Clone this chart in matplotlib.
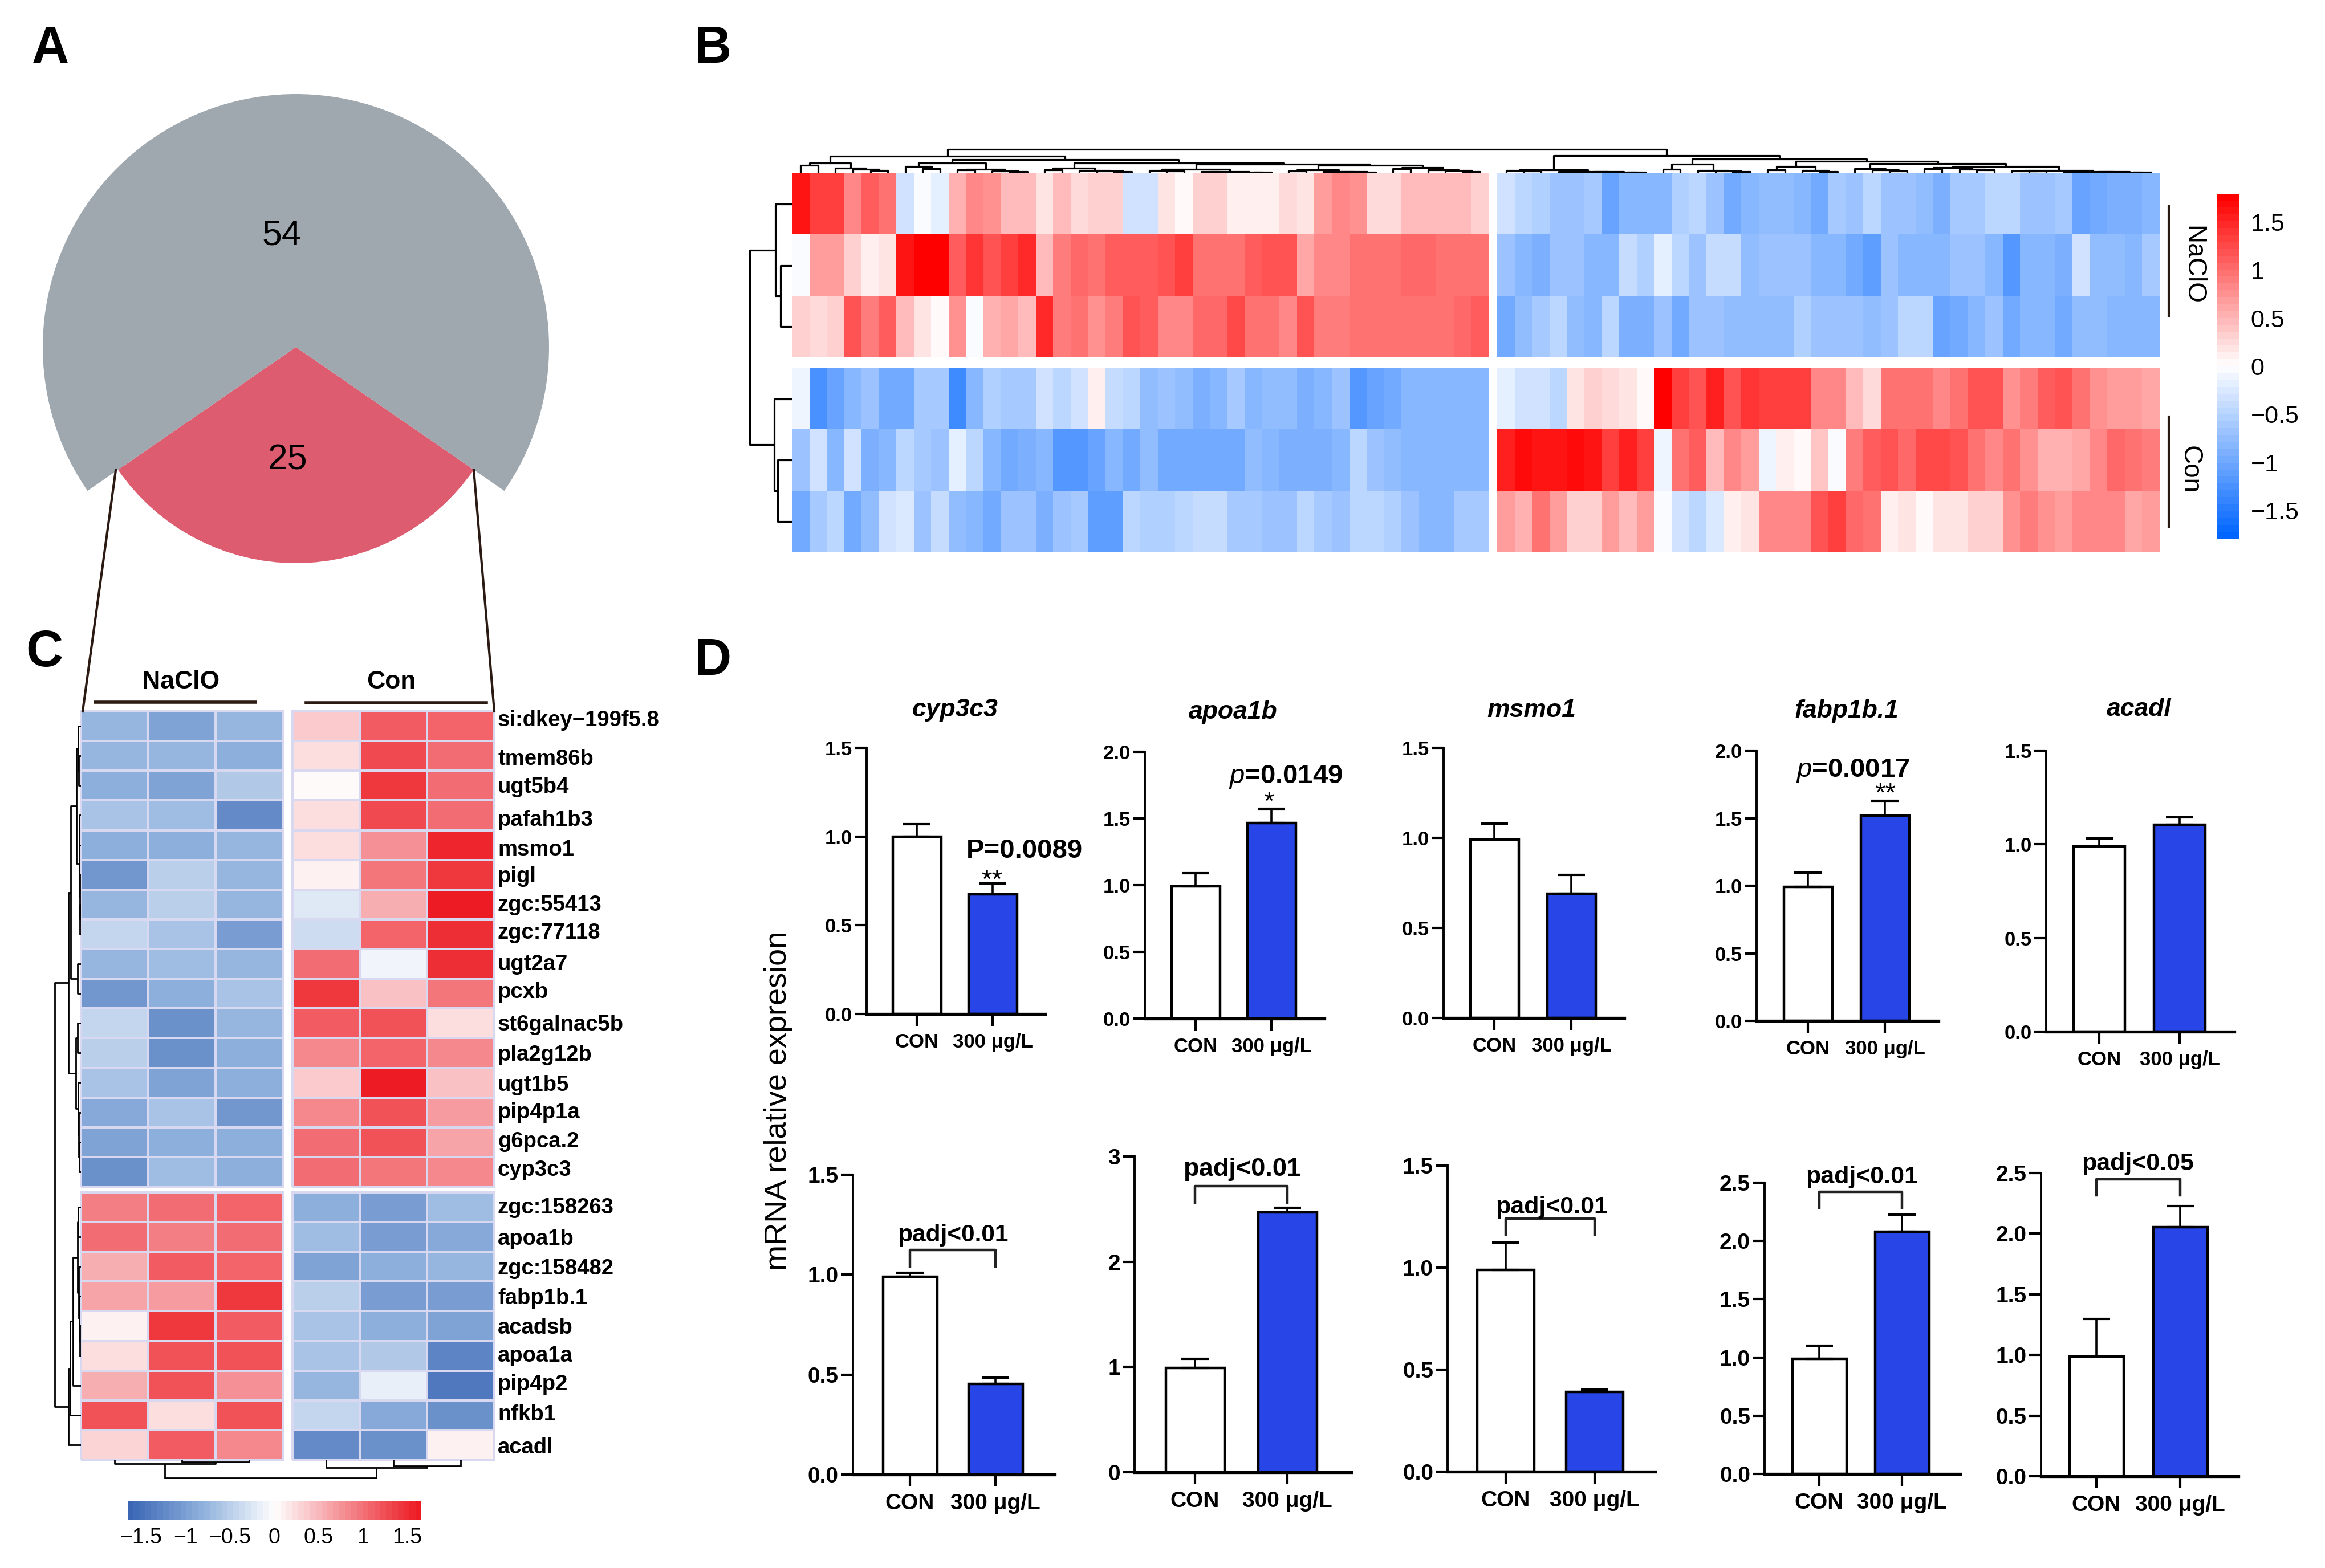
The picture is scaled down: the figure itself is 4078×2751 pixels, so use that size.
import matplotlib
matplotlib.use('Agg')
import matplotlib.pyplot as plt
import numpy as np
from matplotlib.colors import LinearSegmentedColormap

plt.rcParams['font.family'] = ['Liberation Sans', 'DejaVu Sans']
plt.rcParams['mathtext.fontset'] = 'custom'
plt.rcParams['mathtext.it'] = 'Liberation Sans:italic'
plt.rcParams['mathtext.rm'] = 'Liberation Sans'

W, H = 4078, 2751
DPI = 100

# panel A
pie_values = [25, 54]

# panel B, rows NaClO x3 then Con x3, left column cluster
b_left = [
    [1.6, 1.3, 1.3, .8, 1.1, 1.0, -.3, -.05, -.15, .55, .8, .75, .5, .45, .2, .5, .25, .35, .35, -.3,
     -.3, .2, .05, .3, .3, .1, .1, .1, .25, .15, .65, .85, .75, .25, .25, .45, .45, .45, .45, .35],
    [-.05, .7, .7, .3, .1, .2, 1.6, 1.8, 1.8, 1.1, 1.4, 1.2, 1.35, 1.45, .5, .9, 1.05, 1.0, 1.1, 1.1,
     1.1, 1.2, 1.3, 1.0, 1.0, .95, 1.1, 1.15, 1.2, .6, .85, .85, 1.0, 1.0, 1.0, 1.05, 1.05, 1.0, .95, .95],
    [.3, .25, .3, 1.2, .9, 1.1, .45, .2, .05, .75, -.05, .55, .6, .5, 1.45, .9, 1.0, .75, .9, 1.15,
     1.1, .85, .85, 1.05, 1.05, 1.25, 1.0, .95, .85, 1.2, .9, .9, 1.0, 1.0, 1.0, .95, .95, .95, 1.05, 1.1],
    [-.1, -1.25, -1.05, -.85, -.7, -.95, -.95, -.6, -.6, -1.3, -.8, -.55, -.6, -.6, -.3, -.45, -.35, .1, -.4, -.45,
     -.75, -.65, -.75, -.9, -.8, -.6, -.85, -.75, -.75, -.9, -.85, -.65, -1.15, -1.05, -1.0, -.8, -.8, -.8, -.8, -.8],
    [-.7, -.3, -.8, -.3, -.9, -.85, -.5, -.6, -.7, -.15, -.45, -.85, -.95, -.9, -.85, -1.2, -1.2, -1.05, -.85, -.95,
     -.75, -1.0, -.95, -.95, -.95, -1.0, -.75, -.85, -.9, -.9, -.9, -.85, -.5, -.7, -.75, -.85, -.85, -.85, -.85, -.85],
    [-1.0, -.6, -.45, -1.0, -.75, -.3, -.25, -.65, -.4, -.75, -.85, -1.0, -.7, -.7, -.9, -.7, -.6, -1.1, -1.1, -.45,
     -.55, -.55, -.45, -.4, -.4, -.6, -.6, -.7, -.65, -.5, -.6, -.7, -.5, -.5, -.55, -.7, -.85, -.85, -.6, -.6],
]
# panel B, right column cluster
b_right = [
    [-.3, -.5, -.55, -.65, -.7, -.6, -1.05, -.85, -.85, -.85, -.55, -.5, -.65, -1.0, -.8, -.75, -.75, -.8, -.95,
     -.6, -.7, -.45, -.7, -.7, -.75, -.9, -.6, -.6, -.5, -.5, -.65, -.7, -.6, -1.05, -.95, -.9, -.9, -.85],
    [-.65, -.8, -.9, -.7, -.7, -.8, -.8, -.4, -.55, -.2, -.5, -.7, -.4, -.4, -.75, -.7, -.7, -.65, -.85,
     -.85, -1.0, -1.1, -.7, -.8, -.8, -.85, -.7, -.7, -.85, -1.15, -.8, -.8, -.9, -.35, -.75, -.75, -.8, -.6],
    [-.95, -.75, -.6, -.45, -.75, -.8, -.45, -.9, -.9, -.7, -.95, -.65, -.7, -.75, -.75, -.75, -.75, -.55, -.7,
     -.7, -.7, -.75, -.7, -.5, -.5, -1.05, -.95, -.85, -.7, -1.0, -.8, -.8, -1.0, -.75, -.75, -.85, -.85, -.85],
    [-.15, -.35, -.3, -.45, .2, .35, .25, .2, .05, 1.8, 1.3, 1.2, 1.55, 1.2, 1.4, 1.35, 1.35, 1.3, .85,
     .8, .45, .25, .95, 1.0, 1.0, .8, .95, 1.2, 1.15, .75, .9, 1.1, 1.2, 1.0, .75, .65, .7, .6],
    [1.55, 1.7, 1.6, 1.6, 1.65, 1.6, 1.35, 1.55, 1.35, -.1, .95, 1.1, .5, .85, .65, -.1, .1, 0, .4,
     -.03, .9, 1.1, 1.2, 1.05, 1.25, 1.25, 1.15, .95, .85, .95, .75, .55, .55, .6, .8, 1.05, 1.0, .9],
    [.65, .55, 1.0, .7, .3, .3, .65, .5, .7, -.05, -.35, -.45, -.25, .08, .2, .85, .8, .8, 1.15,
     1.35, 1.05, 1.0, .1, .2, .03, .2, .15, .3, .3, .75, .9, .75, .7, .8, .8, .8, .6, .7],
]
b_cticks = [-1.5, -1, -.5, 0, .5, 1, 1.5]
b_clabels = ['\u22121.5', '\u22121', '\u22120.5', '0', '0.5', '1', '1.5']

# panel C
c_genes = ['si:dkey\u2212199f5.8', 'tmem86b', 'ugt5b4', 'pafah1b3', 'msmo1', 'pigl', 'zgc:55413', 'zgc:77118',
           'ugt2a7', 'pcxb', 'st6galnac5b', 'pla2g12b', 'ugt1b5', 'pip4p1a', 'g6pca.2', 'cyp3c3',
           'zgc:158263', 'apoa1b', 'zgc:158482', 'fabp1b.1', 'acadsb', 'apoa1a', 'pip4p2', 'nfkb1', 'acadl']
c_nacio = [[-.75, -.95, -.75], [-.75, -.75, -.85], [-.8, -.95, -.55], [-.6, -.7, -1.2], [-.8, -.8, -.75],
           [-1.1, -.5, -.75], [-.75, -.5, -.75], [-.45, -.6, -1.0], [-.75, -.7, -.75], [-1.1, -.85, -.6],
           [-.45, -1.15, -.75], [-.5, -1.15, -.85], [-.6, -.95, -.8], [-.9, -.6, -1.1], [-.95, -.85, -.85],
           [-1.15, -.7, -.85], [.9, 1.0, 1.1], [1.0, .9, 1.0], [.55, 1.15, 1.1], [.65, .7, 1.45],
           [.08, 1.4, 1.15], [.2, 1.2, 1.25], [.55, 1.25, .75], [1.2, .22, 1.25], [.28, 1.15, .85]]
c_con = [[.35, 1.15, 1.1], [.2, 1.3, 1.05], [.03, 1.4, 1.05], [.25, 1.3, 1.05], [.25, .75, 1.55],
         [.08, .95, 1.4], [-.25, .55, 1.65], [-.35, 1.1, 1.5], [1.0, -.1, 1.5], [1.4, .4, .95],
         [1.15, 1.2, .25], [.8, 1.1, .85], [.35, 1.65, .4], [.85, 1.2, .7], [1.0, 1.2, .6],
         [1.0, .95, .85], [-.85, -1.0, -.7], [-.7, -1.05, -.9], [-.95, -.8, -.75], [-.5, -1.0, -1.0],
         [-.65, -.8, -.95], [-.6, -.55, -1.3], [-.75, -.15, -1.45], [-.4, -.9, -1.15], [-1.25, -1.15, .1]]
c_cticks = [-1.5, -1, -.5, 0, .5, 1, 1.5]

# panel D
d_titles = ['cyp3c3', 'apoa1b', 'msmo1', 'fabp1b.1', 'acadl']
d_ymax = [1.5, 2.0, 1.5, 2.0, 1.5, 1.5, 3, 1.5, 2.5, 2.5]
d_step = [.5, .5, .5, .5, .5, .5, 1, .5, .5, .5]
d_con = [1.0, .99, .99, .99, .99, .99, .99, .99, .99, .985]
d_con_err = [.07, .10, .09, .105, .04, .02, .087, .134, .11, .31]
d_trt = [.674, 1.466, .69, 1.521, 1.103, .452, 2.47, .39, 2.08, 2.055]
d_trt_err = [.061, .108, .105, .107, .042, .034, .044, .013, .147, .174]
d_groups = ['CON', '300 \u03bcg/L']
d_bracket_top = [None, None, None, None, None, 1.124, 2.72, 1.239, 2.42, 2.447]
d_bracket_low = [None, None, None, None, None, 1.04, 2.56, 1.161, 2.287, 2.318]

# layout in reference pixels: spine x, top y, zero y, right x, bar centres, bar width
d_layout = [
    (1520, 1312, 1779, 1833, 1608, 1741, 85),
    (2008, 1319, 1787, 2323, 2097, 2230, 85),
    (2532, 1312, 1786, 2849, 2621, 2756, 85),
    (3081, 1317, 1791, 3400, 3171, 3306, 85),
    (3589, 1317, 1810, 3919, 3682, 3823, 90),
    (1496, 2061, 2587, 1850, 1596, 1746, 95),
    (1990, 2029, 2583, 2370, 2096, 2258, 103),
    (2539, 2045, 2582, 2903, 2641, 2797, 100),
    (3095, 2075, 2586, 3438, 3191, 3336, 95),
    (3580, 2058, 2590, 3926, 3677, 3824, 95),
]
d_title_xy = [(1675, 1241), (2163, 1245), (2686, 1241), (3239, 1243), (3752, 1239)]

c_label_y = [1261, 1329, 1378, 1436, 1488, 1535, 1585, 1634, 1689, 1738, 1795, 1848, 1901, 1949,
             2000, 2050, 2116, 2171, 2223, 2275, 2327, 2376, 2426, 2479, 2537]

LINE = '#2b1a12'
BLUE = '#2846e8'

fig = plt.figure(figsize=(W / DPI, H / DPI), dpi=DPI, facecolor='white')


def px_axes(x0, y0, x1, y1, **kw):
    # axes from reference pixels, y going down
    return fig.add_axes([x0 / W, 1 - y1 / H, (x1 - x0) / W, (y1 - y0) / H], **kw)


def leaves(heights):
    # cluster of len(heights)+1 leaves, top height first
    if not heights:
        return 0
    cut = 1 + (len(heights) - 1) // 3
    return (heights[0], leaves(heights[1:cut]), leaves(heights[cut:]))


def draw_tree(ax, node, pos, counter, swap=False, lw=2.3):
    if node == 0:
        p = pos(counter[0])
        counter[0] += 1
        return p, 0
    h, a, b = node
    pa, ha = draw_tree(ax, a, pos, counter, swap, lw)
    pb, hb = draw_tree(ax, b, pos, counter, swap, lw)
    xs = [pa, pa, pb, pb]
    ys = [ha, h, h, hb]
    if swap:
        ax.plot(ys, xs, color='black', lw=lw, solid_capstyle='butt')
    else:
        ax.plot(xs, ys, color='black', lw=lw, solid_capstyle='butt')
    return (pa + pb) / 2, h


# panel A
ax = px_axes(519 - 444, 609 - 444, 519 + 444, 609 + 444)
half = 55.4
wedges, _ = ax.pie(pie_values, colors=['#de5c6f', '#9fa8af'], startangle=270 - half, radius=1.0,
                   wedgeprops={'linewidth': 0})
wedges[0].set_theta2(270 + half)
wedges[1].set_theta1(270 + half)
wedges[0].set_radius(379 / 444)
ax.set_xlim(-1, 1)
ax.set_ylim(-1, 1)

# panel B heatmap
cmap_b = LinearSegmentedColormap.from_list('b', ['#0066ff', '#ffffff', '#ff0000'], N=50)
b_left = np.array(b_left)
b_right = np.array(b_right)
x_blocks = [(1389, 2611), (2626, 3788)]
y_blocks = [(304, 627.5, 0, 3), (646, 969, 3, 6)]
for (x0, x1), arr in zip(x_blocks, [b_left, b_right]):
    for y0, y1, r0, r1 in y_blocks:
        ax = px_axes(x0, y0, x1, y1)
        ax.imshow(arr[r0:r1], cmap=cmap_b, vmin=-1.79, vmax=1.79, aspect='auto', interpolation='nearest')
        ax.axis('off')

# panel B dendrograms, heights in pixels above the heatmap
ax = px_axes(1389, 258, 3788, 304)
col_gap = 15 / 30.57
col_pos = lambda i: i + .5 + (col_gap if i >= 40 else 0)
b_tree_left = (29.7,
               leaves([17.7, 14, 9, 7, 5]),
               (24,
                leaves([18, 12, 8, 7, 6, 4, 3]),
                (18, leaves([9, 6, 5, 4, 3]),
                 (16, leaves([7, 5, 4, 3, 3, 2.5, 2]),
                  (14, leaves([6, 4, 3.5, 3, 2]), leaves([10, 8, 6, 5, 3]))))))
b_tree_right = (30.6,
                leaves([6, 5, 4, 3, 3, 3, 2, 2]),
                (24.9,
                 leaves([16, 7, 5, 4, 3]),
                 (21, leaves([12, 6, 5, 3]),
                  (17, leaves([8, 6, 4]),
                   leaves([12, 10, 8, 7, 6, 5, 4.5, 4, 3.5, 3, 3, 2.5, 2])))))
draw_tree(ax, (41.6, b_tree_left, b_tree_right), col_pos, [0])
ax.set_xlim(0, 78 + col_gap)
ax.set_ylim(0, 46)
ax.axis('off')

ax = px_axes(1313, 304, 1389, 969)
row_gap = 18.5 / 107.7
row_pos = lambda i: i + .5 + (row_gap if i >= 3 else 0)
draw_tree(ax, (74, (29, 0, (20, 0, 0)), (31, 0, (25, 0, 0))), row_pos, [0], swap=True)
ax.set_xlim(76, 0)
ax.set_ylim(6 + row_gap, 0)
ax.axis('off')

# panel B colorbar
ax = px_axes(3889, 340, 3928, 945)
ax.imshow(np.linspace(1.79, -1.79, 50)[:, None], cmap=cmap_b, vmin=-1.79, vmax=1.79, aspect='auto',
          extent=[0, 1, -1.79, 1.79], interpolation='nearest')
ax.set_xticks([])
ax.yaxis.tick_right()
ax.set_yticks(b_cticks)
ax.set_yticklabels(b_clabels, fontsize=31)
ax.tick_params(axis='y', length=0, pad=14)
for s in ax.spines.values():
    s.set_visible(False)

# panel C heatmap
cmap_c = LinearSegmentedColormap.from_list('c', ['#3b66b4', '#8fb1dd', '#ffffff', '#f48a8f', '#ed1c24'], N=50)
c_vals = [np.array(c_nacio), np.array(c_con)]
for (x0, x1), arr in zip([(141.6, 496), (513, 867)], c_vals):
    for y0, y1, r0, r1 in [(1248, 2082, 0, 16), (2092, 2561, 16, 25)]:
        ax = px_axes(x0, y0, x1, y1)
        ax.pcolormesh(arr[r0:r1][::-1], cmap=cmap_c, vmin=-1.65, vmax=1.65, edgecolors='#d8d8f0', linewidth=2.6)
        ax.axis('off')
        for coll in ax.collections:
            coll.set_clip_on(False)

# panel C dendrograms
ax = px_axes(94, 1248, 141.6, 2561)
c_row_gap = 10 / 52.1
c_pos = lambda i: i + .5 + (c_row_gap if i >= 16 else 0)
c_upper = (21.5, (18, leaves([8, 5, 4, 3, 3, 2, 2]), (6, 0, 0)), leaves([9, 6, 5, 4, 3]))
c_lower = (21.5, (19, (14, leaves([6, 5, 4, 3, 2]), 0), 0), 0)
draw_tree(ax, (46, c_upper, c_lower), c_pos, [0], swap=True, lw=2)
ax.set_xlim(47.6, 0)
ax.set_ylim(25 + c_row_gap, 0)
ax.axis('off')

ax = px_axes(141.6, 2561, 867, 2597)
c_col_gap = 17 / 118
c_cpos = lambda i: i + .5 + (c_col_gap if i >= 3 else 0)
draw_tree(ax, (32, (7, 0, (4, 0, 0)), (14, 0, (11, 0, 0))), c_cpos, [0], lw=2)
ax.set_xlim(0, 6 + c_col_gap)
ax.set_ylim(36, 0)
ax.axis('off')

# panel C colorbar
ax = px_axes(224, 2633, 738, 2667)
ax.imshow(np.linspace(-1.65, 1.65, 50)[None, :], cmap=cmap_c, vmin=-1.65, vmax=1.65, aspect='auto',
          extent=[-1.65, 1.65, 0, 1], interpolation='nearest')
ax.set_yticks([])
ax.set_xticks(c_cticks)
ax.set_xticklabels(b_clabels, fontsize=27)
ax.tick_params(axis='x', length=0, pad=9)
for s in ax.spines.values():
    s.set_visible(False)

# panel D bars
for i in range(10):
    sx, ty, zy, rx, c0, c1, bw = d_layout[i]
    s = c1 - c0
    ax = px_axes(sx, ty, rx, zy)
    ax.patch.set_alpha(0)
    fs = 25 if i < 5 else 28
    err = [[0, 0], [d_con_err[i], d_trt_err[i]]]
    ax.bar([0, 1], [d_con[i], d_trt[i]], width=bw / s, color=['white', BLUE], edgecolor='black', linewidth=3.2,
           yerr=err, error_kw={'ecolor': 'black', 'elinewidth': 2.6, 'capsize': 17, 'capthick': 3})
    if d_bracket_top[i] is not None:
        ax.plot([0, 0, 1, 1], [d_bracket_low[i], d_bracket_top[i], d_bracket_top[i], d_bracket_low[i]],
                color='#222222', lw=3.2)
    ax.set_xlim((sx - c0) / s, (rx - c0) / s)
    ax.set_ylim(0, d_ymax[i])
    ticks = np.arange(0, d_ymax[i] + .01, d_step[i])
    ax.set_yticks(ticks)
    ax.set_yticklabels(['%d' % t if d_step[i] == 1 else '%.1f' % t for t in ticks], fontsize=fs, fontweight='bold')
    ax.set_xticks([0, 1])
    ax.set_xticklabels(d_groups, fontsize=fs, fontweight='bold')
    ax.tick_params(axis='y', length=15, width=3, pad=3)
    ax.tick_params(axis='x', length=15, width=3, pad=9)
    ax.spines['top'].set_visible(False)
    ax.spines['right'].set_visible(False)
    ax.spines['left'].set_linewidth(2.8)
    ax.spines['bottom'].set_linewidth(3.8)

# overlay for text and connecting lines, in reference pixels
ov = fig.add_axes([0, 0, 1, 1])
ov.set_xlim(0, W)
ov.set_ylim(H, 0)
ov.axis('off')
ov.patch.set_alpha(0)


def put(x, y, txt, fs, **kw):
    ov.text(x, y + 5, txt, fontsize=fs, ha='center', va='center', **kw)


for txt, x, y in [('A', 88, 82), ('B', 1251, 82), ('C', 78, 1141), ('D', 1251, 1156)]:
    put(x, y, txt, 65, fontweight='bold')
put(494, 408, '54', 45)
put(505, 802, '25', 45)
ov.plot([203, 145], [825, 1248], color=LINE, lw=3)
ov.plot([831, 867], [825, 1248], color=LINE, lw=3)

put(317, 1191, 'NaClO', 32, fontweight='bold')
put(686, 1192, 'Con', 32, fontweight='bold')
ov.plot([167, 448], [1232, 1232], color=LINE, lw=4)
ov.plot([537, 853], [1233, 1233], color=LINE, lw=4)
for gene, y in zip(c_genes, c_label_y):
    ov.text(873, y + 3, gene, fontsize=27.5, fontweight='bold', ha='left', va='center')

ov.plot([3804, 3804], [362, 554], color=LINE, lw=3)
ov.plot([3804, 3804], [731, 924], color=LINE, lw=3)
ov.text(3846, 465, 'NaClO', fontsize=33, rotation=270, ha='center', va='center')
ov.text(3841, 824, 'Con', fontsize=33, rotation=270, ha='center', va='center')

ov.text(1365, 1931, 'mRNA relative expresion', fontsize=39, rotation=90, ha='center', va='center')
for t, (x, y) in zip(d_titles, d_title_xy):
    put(x, y, t, 32, fontweight='bold', fontstyle='italic')

put(1797, 1488, 'P=0.0089', 34, fontweight='bold')
put(1740, 1541, '**', 34)
put(2255, 1358, r'$\mathit{p}$=0.0149', 34, fontweight='bold')
put(2225, 1404, '*', 34)
put(3250, 1347, r'$\mathit{p}$=0.0017', 34, fontweight='bold')
put(3307, 1389, '**', 34)

for txt, x, y, fs in [('padj<0.01', 1671, 2162, 30.5), ('padj<0.01', 2179, 2046, 32.5),
                      ('padj<0.01', 2722, 2113, 31), ('padj<0.01', 3266, 2060, 31),
                      ('padj<0.05', 3750, 2037, 31)]:
    put(x, y, txt, fs, fontweight='bold')

fig.savefig('out.png', dpi=DPI)
